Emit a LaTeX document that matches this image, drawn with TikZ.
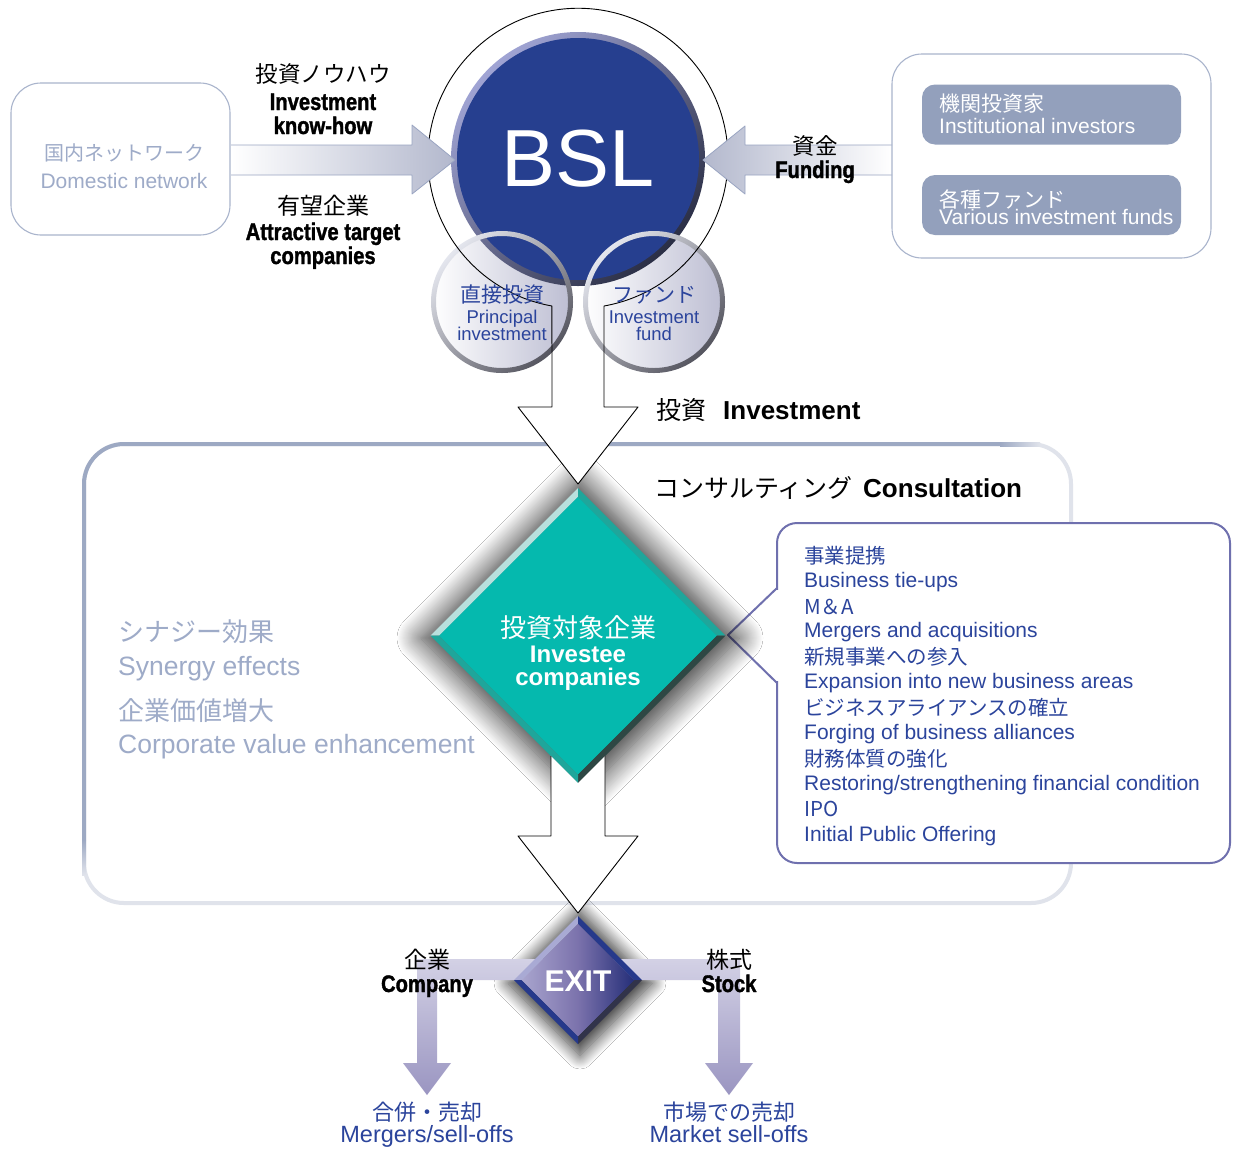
\documentclass[tikz,border=0pt]{standalone}
\usepackage{fontspec}
\setmainfont{Liberation Sans}
\newfontfamily\jpfont{Noto Sans CJK JP}
\newfontfamily\condfont[FakeStretch=0.84,FakeBold=1.4]{Liberation Sans}
\usetikzlibrary{shapes.geometric,shadows.blur}

\definecolor{bslblue}{HTML}{263F8F}
\definecolor{bslrim}{HTML}{A0A4D4}
\definecolor{bslrimdark}{HTML}{2A2E45}
\definecolor{inkblue}{HTML}{2B449C}
\definecolor{mistblue}{HTML}{9EABC8}
\definecolor{frameblue}{HTML}{A9B4CC}
\definecolor{framedark}{HTML}{9DA9C3}
\definecolor{framefade}{HTML}{E0E3EB}
\definecolor{chipblue}{HTML}{93A0BC}
\definecolor{flowgrey}{HTML}{B3B8CD}
\definecolor{flowedge}{HTML}{9AA5C2}
\definecolor{orbgrey}{HTML}{BCBDD2}
\definecolor{orbrimlight}{HTML}{E4E6EE}
\definecolor{orbrimdark}{HTML}{55555F}
\definecolor{investteal}{HTML}{05B9AE}
\definecolor{tealhigh}{HTML}{B8E0DD}
\definecolor{tealside}{HTML}{1FA69B}
\definecolor{tealdeep}{HTML}{2E4744}
\definecolor{tieline}{HTML}{6F70AE}
\definecolor{exitlav}{HTML}{D3D1E5}
\definecolor{exitdeep}{HTML}{9A95C1}
\definecolor{exitleft}{HTML}{A9A5CE}
\definecolor{exitmid}{HTML}{7B72AC}
\definecolor{exitright}{HTML}{242E78}
\definecolor{exithigh}{HTML}{A9AAD4}
\definecolor{exitside}{HTML}{26398B}
\definecolor{exitdeepedge}{HTML}{31334A}

\newcommand{\pxsize}[1]{\fontsize{#1}{#1}\selectfont}

\tikzset{
  softbox/.style={draw=frameblue, line width=1.1pt, rounded corners=30pt, inner sep=0pt},
  chip/.style={fill=chipblue, rounded corners=13pt, inner sep=0pt, minimum width=259pt, minimum height=60pt},
  cjk/.style={font=\jpfont\pxsize{#1}, inner sep=0pt},
  latin/.style={font=\pxsize{#1}, inner sep=0pt, anchor=base},
  boldlatin/.style={font=\bfseries\pxsize{#1}, inner sep=0pt, anchor=base},
  heavy/.style={font=\condfont\bfseries\pxsize{24}, inner sep=0pt, anchor=base},
  flowarrow/.style={draw=flowedge, line width=0.8pt},
  gem/.style={diamond, aspect=1, inner sep=0pt, outer sep=0pt},
  orb/.style={circle, inner sep=0pt, minimum size=141pt, left color=white, right color=orbgrey},
  dshadow/.style={blur shadow={shadow xshift=2pt, shadow yshift=-3pt, shadow blur radius=#1,
    shadow blur steps=24, shadow opacity=80}},
}

\begin{document}
\begin{tikzpicture}[x=1pt, y=-1pt, line join=round]
  \fill[white] (0,0) rectangle (1233,1149);
  \useasboundingbox (0,0) rectangle (1233,1149);

  % consultation frame
  \draw[line width=4pt, framefade, rounded corners=40pt] (84,444) rectangle (1071,903);
  \draw[line width=4pt, framedark, rounded corners=40pt] (84,840) -- (84,444) -- (1000,444);
  \shade[left color=framedark, right color=framefade] (1000,442) rectangle (1040,446);
  \shade[top color=framedark, bottom color=framefade] (82,840) rectangle (86,875);

  % callout with the consulting themes
  \node[draw=tieline, line width=2pt, fill=white, rounded corners=20pt,
        minimum width=453pt, minimum height=340pt, inner sep=0pt] (ties) at (1003.5,693) {};
  \fill[white] (774,590) rectangle (780,681);
  \draw[tieline, line width=2pt] (777,588) -- (728,635) -- (777,683);

  % shadows under the two diamonds
  \path[dshadow=24pt] (578,476) -- (737,635) -- (578,794) -- (419,635) -- cycle;
  \path[dshadow=14pt] (578,908) -- (650,980) -- (578,1052) -- (506,980) -- cycle;

  % exit bars
  \shade[top color=exitlav, bottom color=exitdeep] (560,959) -- (417,959) -- (417,1063) -- (403,1063)
    -- (427,1095) -- (451,1063) -- (437,1063) -- (437,980) -- (560,980) -- cycle;
  \shade[top color=exitlav, bottom color=exitdeep] (596,959) -- (740,959) -- (740,1063) -- (753,1063)
    -- (729,1095) -- (705,1063) -- (718,1063) -- (718,980) -- (596,980) -- cycle;

  % investee diamond
  \node[gem, minimum size=295pt] (invest) at (578,635.5) {};
  \node[gem, minimum size=278pt, fill=investteal] (investcore) at (invest) {};
  \foreach \p/\q/\col in {north/west/tealhigh, north/east/tealside, east/south/tealdeep, south/west/tealside}{
    \fill[\col] (invest.\p) -- (invest.\q) -- (investcore.\q) -- (investcore.\p) -- cycle;
  }

  % exit diamond
  \node[gem, minimum size=128pt] (exit) at (578,980) {};
  \node[gem, minimum size=113pt, left color=exitleft, right color=exitright, middle color=exitmid] (exitcore) at (exit) {};
  \foreach \p/\q/\col in {north/west/exithigh, north/east/exitside, east/south/exitdeepedge, south/west/exitside}{
    \fill[\col] (exit.\p) -- (exit.\q) -- (exitcore.\q) -- (exitcore.\p) -- cycle;
  }

  % big arrows
  \fill[white] (552,300) -- (552,407) -- (518,407) -- (578,484) -- (638,407) -- (604,407) -- (604,300) -- cycle;
  \fill[white] (551,756) -- (551,836) -- (518,836) -- (578,913) -- (638,836) -- (605,836) -- (605,756) -- (578,783) -- cycle;
  \draw[line width=0.9pt] (551,756) -- (551,836) -- (518,836) -- (578,913) -- (638,836) -- (605,836) -- (605,756);

  % BSL and its two circles
  \node[orb] (direct) at (502,302) {};
  \node[orb] (fund) at (654,302) {};
  \node[circle, inner sep=0pt, minimum size=254pt, top color=bslrim, bottom color=bslrimdark, shading angle=45] (bslring) at (578,159) {};
  \node[circle, inner sep=0pt, minimum size=242pt, fill=bslblue, text=white, font=\pxsize{81}] (bsl) at (578,159) {BSL};
  \foreach \orb in {direct, fund}{
    \shade[even odd rule, top color=orbrimlight, bottom color=orbrimdark, shading angle=45]
      (\orb.center) circle[radius=71] (\orb.center) circle[radius=66];
  }
  \draw[line width=0.9pt] (604,407) -- (604,306) arc[start angle=80, end angle=-260, radius=150]
    -- (552,407) -- (518,407) -- (578,484) -- (638,407) -- cycle;

  % side arrows
  \shade[left color=white, right color=flowgrey] (231,145) -- (412,145) -- (412,125) -- (455,160)
    -- (412,194) -- (412,175) -- (231,175) -- cycle;
  \draw[flowarrow] (231,145) -- (412,145) -- (412,125) -- (455,160) -- (412,194) -- (412,175) -- (231,175);
  \shade[left color=flowgrey, right color=white] (892,145) -- (745,145) -- (745,126) -- (703,160)
    -- (745,194) -- (745,175) -- (892,175) -- cycle;
  \draw[flowarrow] (892,145) -- (745,145) -- (745,126) -- (703,160) -- (745,194) -- (745,175) -- (892,175);

  % source boxes
  \node[softbox, minimum width=219pt, minimum height=152pt] (domestic) at (120.5,159) {};
  \node[softbox, minimum width=319pt, minimum height=204pt] (sources) at (1051.5,156) {};
  \node[chip] (inst) at (1051.5,114.5) {};
  \node[chip] (funds) at (1051.5,205) {};

  % texts
  \node[cjk=20, text=mistblue] (domjp) at (124,153) {国内ネットワーク};
  \node[latin=21, text=mistblue] (domen) at (124,188) {Domestic network};
  \node[cjk=22.5] (knowjp) at (323,74) {投資ノウハウ};
  \node[heavy] (knowen) at (323,110) {Investment};
  \node[heavy] (knowen2) at (323,134) {know-how};
  \node[cjk=23] (targetjp) at (323,206) {有望企業};
  \node[heavy] (targeten) at (323,240) {Attractive target};
  \node[heavy] (targeten2) at (323,264) {companies};
  \node[cjk=22.5] (fundingjp) at (815,146) {資金};
  \node[heavy] (fundingen) at (815,178) {Funding};
  \node[cjk=21, text=white, anchor=west] (instjp) at (939,104) {機関投資家};
  \node[latin=21, text=white, anchor=base west] (insten) at (939,133) {Institutional investors};
  \node[cjk=21, text=white, anchor=west] (fundsjp) at (939,199) {各種ファンド};
  \node[latin=21, text=white, anchor=base west] (fundsen) at (939,224) {Various investment funds};

  \node[cjk=21, text=inkblue] (directjp) at (502,295) {直接投資};
  \node[latin=18.5, text=inkblue] (directen) at (502,323) {Principal};
  \node[latin=18.5, text=inkblue] (directen2) at (502,340) {investment};
  \node[cjk=21, text=inkblue] (fundjp) at (654,295) {ファンド};
  \node[latin=18.5, text=inkblue] (funden) at (654,323) {Investment};
  \node[latin=18.5, text=inkblue] (funden2) at (654,340) {fund};

  \node[cjk=25, anchor=west] (investjp) at (656,410) {投資};
  \node[boldlatin=26, anchor=base west] (investen) at (723,419) {Investment};
  \node[cjk=25, anchor=west] (consjp) at (654,488) {コンサルティング};
  \node[boldlatin=26, anchor=base west] (consen) at (863,497) {Consultation};

  \node[cjk=26, text=mistblue, anchor=west] (synjp) at (118,632) {シナジー効果};
  \node[latin=26.5, text=mistblue, anchor=base west] (synen) at (118,675) {Synergy effects};
  \node[cjk=26, text=mistblue, anchor=west] (valjp) at (118,711) {企業価値増大};
  \node[latin=26.5, text=mistblue, anchor=base west] (valen) at (118,753) {Corporate value enhancement};

  \node[cjk=26, text=white] (targetcojp) at (578,628) {投資対象企業};
  \node[boldlatin=24, text=white] (targetcoen) at (578,662) {Investee};
  \node[boldlatin=24, text=white] (targetcoen2) at (578,685) {companies};

  \foreach \jtext/\etext [count=\i] in {事業提携/Business tie-ups, M＆A/Mergers and acquisitions,
      新規事業への参入/Expansion into new business areas, ビジネスアライアンスの確立/Forging of business alliances,
      財務体質の強化/{Restoring/strengthening financial condition}, IPO/Initial Public Offering}{
    \node[cjk=20.5, text=inkblue, anchor=west] (tiejp\i) at (804,{556+50.6*(\i-1)}) {\jtext};
    \node[latin=21, text=inkblue, anchor=base west] (tieen\i) at (804,{587+50.8*(\i-1)}) {\etext};
  }

  \node[boldlatin=30, text=white] (exittext) at (578,991) {EXIT};
  \node[cjk=23] (companyjp) at (427,960) {企業};
  \node[heavy] (companyen) at (427,992) {Company};
  \node[cjk=23] (stockjp) at (729,960) {株式};
  \node[heavy] (stocken) at (729,992) {Stock};
  \node[cjk=22, text=inkblue] (mergejp) at (427,1112) {合併・売却};
  \node[latin=23.5, text=inkblue] (mergeen) at (427,1142) {Mergers/sell-offs};
  \node[cjk=22, text=inkblue] (marketjp) at (729,1112) {市場での売却};
  \node[latin=23.5, text=inkblue] (marketen) at (729,1142) {Market sell-offs};
\end{tikzpicture}
\end{document}
